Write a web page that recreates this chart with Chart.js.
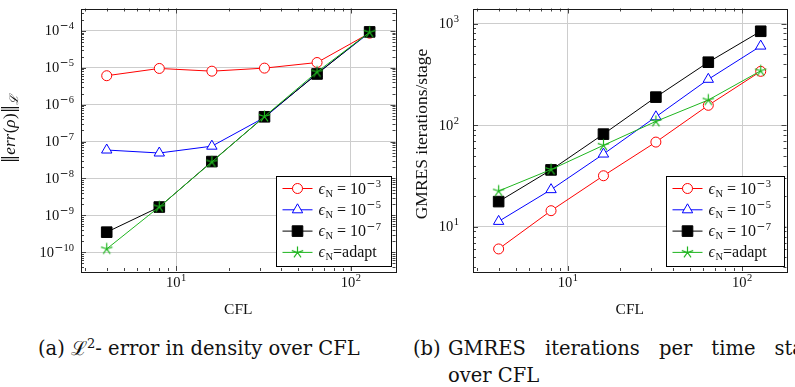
<!DOCTYPE html>
<html lang="en">
<head>
<meta charset="UTF-8" />
<title>Density error and GMRES iterations over CFL</title>
<script src="https://cdn.jsdelivr.net/npm/chart.js"></script>
<style>
  body {
    margin: 0;
    width: 795px;
    height: 387px;
    overflow: hidden;
    position: relative;
    background: #fff;
    color: #111;
  }
  canvas {
    position: absolute;
    top: 0;
  }
  #errChart { left: 0; }
  #gmresChart { left: 404px; }
  .caption {
    position: absolute;
    font-family: "DejaVu Serif", serif;
    font-size: 19.5px;
    line-height: 27px;
    white-space: nowrap;
  }
  .caption sup {
    font-size: 13px;
    line-height: 0;
  }
  #capA { left: 38px; top: 335px; }
  #capB { left: 413px; top: 335px; }
  #capB .line1 {
    position: absolute;
    left: 35px;
    top: 0;
    width: 380px;
    white-space: normal;
    text-align: justify;
    text-align-last: justify;
  }
  #capB .line2 {
    position: absolute;
    left: 35px;
    top: 27px;
  }
</style>
</head>
<body>
  <canvas id="errChart" width="404" height="320"></canvas>
  <canvas id="gmresChart" width="391" height="320"></canvas>

  <div class="caption" id="capA">(a) ℒ<sup>2</sup>- error in density over CFL</div>
  <div class="caption" id="capB">(b)<div class="line1">GMRES iterations per time stage</div><div class="line2">over CFL</div></div>

  <script>
    // CFL numbers used in every run
    const cfl = [4, 8, 16, 32, 64, 128];

    // L2 error of the density
    const errTol3  = [6.1e-6, 9.6e-6, 8.1e-6, 9.8e-6, 1.39e-5, 8.7e-5];
    const errTol5  = [5.9e-8, 4.9e-8, 7.5e-8, 4.5e-7, 7.0e-6, 9.0e-5];
    const errTol7  = [3.5e-10, 1.68e-9, 2.87e-8, 4.7e-7, 6.8e-6, 9.4e-5];
    const errAdapt = [1.23e-10, 1.7e-9, 2.8e-8, 4.8e-7, 7.7e-6, 9.2e-5];

    // GMRES iterations per stage
    const itTol3  = [6.05, 14.4, 31.8, 68.2, 157, 339];
    const itTol5  = [11.3, 23.2, 52, 121, 283, 601];
    const itTol7  = [17.7, 36.3, 81.7, 189, 417, 841];
    const itAdapt = [22.5, 36.6, 63.4, 109, 177, 343];

    // newton tolerance of each series (exponent, or the word for the adaptive one)
    const tolNames = ['-3', '-5', '-7', 'adapt'];

    // decade exponents that get a labelled tick
    const cflTickExp = [1, 2];
    const errTickExp = [-10, -9, -8, -7, -6, -5, -4];
    const itTickExp  = [1, 2, 3];

    const serif = '"Liberation Serif", serif';
    const minusFont = '"DejaVu Sans", sans-serif';
    const green = '#1fb51f';

    // five armed star like the pgfplots "star" mark
    function starMark(color) {
      const c = document.createElement('canvas');
      c.width = 15; c.height = 15;
      const g = c.getContext('2d');
      g.strokeStyle = color;
      g.lineWidth = 1.2;
      g.beginPath();
      for (let k = 0; k < 5; k++) {
        const a = -Math.PI / 2 + k * 2 * Math.PI / 5;
        g.moveTo(7.5, 7.5);
        g.lineTo(7.5 + 6 * Math.cos(a), 7.5 + 6 * Math.sin(a));
      }
      g.stroke();
      return c;
    }

    const styles = [
      { color: '#ff0000', pointStyle: 'circle',   radius: 5,   fill: '#ffffff', order: 4 },
      { color: '#0000ff', pointStyle: 'triangle', radius: 6,   fill: '#ffffff', order: 3 },
      { color: '#000000', pointStyle: 'rect',     radius: 7.5, fill: '#000000', order: 2 },
      { color: green,     pointStyle: starMark(green), radius: 7, fill: green, order: 1 }
    ];

    function buildDatasets(seriesList) {
      return seriesList.map((vals, i) => {
        const s = styles[i];
        return {
          label: tolNames[i],
          data: cfl.map((x, j) => ({ x: x, y: vals[j] })),
          borderColor: s.color,
          backgroundColor: s.fill,
          borderWidth: 1,
          pointStyle: s.pointStyle,
          pointRadius: s.radius,
          pointBorderWidth: 1,
          pointBackgroundColor: s.fill,
          pointBorderColor: s.color,
          tension: 0,
          order: s.order,
          clip: false
        };
      });
    }

    // exponent runs: the minus sign is taken from a font with a wide math minus
    function expRuns(exp, size, dy) {
      const s = String(exp);
      const runs = [];
      if (s[0] === '-') runs.push({ t: '−', font: size + 'px ' + minusFont, dy: dy, gap: 0.3 });
      runs.push({ t: s.replace('-', ''), font: size + 'px ' + serif, dy: dy });
      return runs;
    }

    // draws a run of text pieces, each with its own font and vertical shift
    function drawRuns(ctx, runs, x, y, align) {
      let total = 0;
      runs.forEach(r => { ctx.font = r.font; r.w = ctx.measureText(r.t).width; total += r.w + (r.gap || 0); });
      let cx = x;
      if (align === 'center') cx = x - total / 2;
      if (align === 'right') cx = x - total;
      runs.forEach(r => {
        ctx.font = r.font;
        ctx.fillText(r.t, cx, y + (r.dy || 0));
        cx += r.w + (r.gap || 0);
      });
    }

    // 10^exp with a raised exponent
    function drawPow(ctx, exp, x, y, align) {
      ctx.textAlign = 'left';
      ctx.textBaseline = 'alphabetic';
      const runs = [{ t: '10', font: '14.5px ' + serif, gap: 0.5 }].concat(expRuns(exp, 10.5, -6));
      drawRuns(ctx, runs, x, y, align);
    }

    const pgfAxes = {
      id: 'pgfAxes',
      afterDatasetsDraw(chart, args, opts) {
        const ctx = chart.ctx;
        const a = chart.chartArea;
        const xs = chart.scales.x, ys = chart.scales.y;
        ctx.save();
        ctx.lineWidth = 1;
        ctx.strokeStyle = '#444';
        ctx.beginPath();
        // inner ticks on all four sides, longer on decades
        for (let k = 0; k <= 2; k++) {
          for (let m = 1; m <= 9; m++) {
            const v = m * Math.pow(10, k);
            if (v < xs.min || v > xs.max) continue;
            const px = Math.round(xs.getPixelForValue(v)) + 0.5;
            const len = m === 1 ? 5 : 3;
            ctx.moveTo(px, a.bottom); ctx.lineTo(px, a.bottom - len);
            ctx.moveTo(px, a.top); ctx.lineTo(px, a.top + len);
          }
        }
        for (let k = Math.floor(Math.log10(ys.min)); k <= Math.ceil(Math.log10(ys.max)); k++) {
          for (let m = 1; m <= 9; m++) {
            const v = m * Math.pow(10, k);
            if (v < ys.min || v > ys.max) continue;
            const py = Math.round(ys.getPixelForValue(v)) + 0.5;
            const len = m === 1 ? 5 : 3;
            ctx.moveTo(a.left, py); ctx.lineTo(a.left + len, py);
            ctx.moveTo(a.right, py); ctx.lineTo(a.right - len, py);
          }
        }
        ctx.stroke();
        // axis frame
        ctx.strokeStyle = '#1a1a1a';
        ctx.strokeRect(Math.round(a.left) + 0.5, Math.round(a.top) + 0.5,
                       Math.round(a.right - a.left), Math.round(a.bottom - a.top));
        ctx.restore();
      },
      afterDraw(chart, args, opts) {
        const ctx = chart.ctx;
        const a = chart.chartArea;
        const xs = chart.scales.x, ys = chart.scales.y;
        ctx.save();
        ctx.fillStyle = '#111';

        // tick labels
        cflTickExp.forEach(e => drawPow(ctx, e, xs.getPixelForValue(Math.pow(10, e)), 287, 'center'));
        opts.yTicks.forEach(e => drawPow(ctx, e, a.left - opts.labelGap, ys.getPixelForValue(Math.pow(10, e)) + 4.5, 'right'));

        // axis titles
        ctx.textBaseline = 'alphabetic';
        ctx.textAlign = 'center';
        ctx.font = '15.5px ' + serif;
        ctx.fillText('CFL', (a.left + a.right) / 2, 314);

        ctx.save();
        ctx.translate(opts.titleX, opts.titleY);
        ctx.rotate(-Math.PI / 2);
        ctx.textAlign = 'left';
        ctx.textBaseline = 'middle';
        drawRuns(ctx, opts.yTitle, 0, 0, 'center');
        ctx.restore();

        // legend box in the lower right corner
        const lw = opts.legendWidth, lh = 90;
        const lx = Math.round(a.right - opts.legendRight - lw) + 0.5;
        const ly = Math.round(a.bottom - 5 - lh) + 0.5;
        ctx.fillStyle = '#fff';
        ctx.fillRect(lx, ly, lw, lh);
        ctx.strokeStyle = '#000';
        ctx.lineWidth = 1;
        ctx.strokeRect(lx, ly, lw, lh);

        chart.data.datasets.forEach((ds, i) => {
          const ry = ly + 12 + i * 21.3;
          ctx.strokeStyle = ds.borderColor;
          ctx.lineWidth = 1;
          ctx.beginPath();
          ctx.moveTo(lx + 6, ry);
          ctx.lineTo(lx + 36, ry);
          ctx.stroke();
          ctx.fillStyle = ds.pointBackgroundColor;
          ctx.strokeStyle = ds.pointBorderColor;
          Chart.helpers.drawPoint(ctx, {
            pointStyle: ds.pointStyle, radius: ds.pointRadius, borderWidth: 1, rotation: 0
          }, lx + 21, ry);

          ctx.fillStyle = '#111';
          ctx.textAlign = 'left';
          ctx.textBaseline = 'alphabetic';
          const base = ry + 5;
          let runs = [
            { t: 'ϵ', font: 'italic 16px ' + serif, gap: 0.5 },
            { t: 'N', font: '10.5px ' + serif, dy: 3 }
          ];
          if (ds.label === 'adapt') {
            runs.push({ t: '=adapt', font: '16px ' + serif });
          } else {
            runs.push({ t: ' = 10', font: '16px ' + serif, gap: 0.5 });
            runs = runs.concat(expRuns(ds.label, 10.5, -6.5));
          }
          drawRuns(ctx, runs, lx + 42, base, 'left');
        });
        ctx.restore();
      }
    };

    function makeChart(id, seriesList, yMin, yMax, axisOpts) {
      return new Chart(document.getElementById(id), {
        type: 'line',
        data: { datasets: buildDatasets(seriesList) },
        options: {
          responsive: false,
          animation: false,
          events: [],
          layout: { padding: { top: 5, right: axisOpts.padRight, left: 0, bottom: 0 } },
          plugins: {
            legend: { display: false },
            tooltip: { enabled: false },
            pgfAxes: axisOpts
          },
          scales: {
            x: {
              type: 'logarithmic',
              min: 2.85,
              max: 180,
              afterBuildTicks: s => { s.ticks = cflTickExp.map(e => ({ value: Math.pow(10, e) })); },
              afterFit: s => { s.height = 49; },
              grid: { color: '#cdcdcd', lineWidth: 1, drawTicks: false },
              border: { display: false },
              ticks: { display: false }
            },
            y: {
              type: 'logarithmic',
              min: yMin,
              max: yMax,
              afterBuildTicks: s => { s.ticks = axisOpts.yTicks.map(e => ({ value: Math.pow(10, e) })); },
              afterFit: s => { s.width = axisOpts.axisWidth; },
              grid: { color: '#cdcdcd', lineWidth: 1, drawTicks: false },
              border: { display: false },
              ticks: { display: false }
            }
          }
        },
        plugins: [pgfAxes]
      });
    }

    makeChart('errChart', [errTol3, errTol5, errTol7, errAdapt], 3.1e-11, 4.05e-4, {
      yTicks: errTickExp,
      axisWidth: 81,
      padRight: 3,
      labelGap: 7,
      legendWidth: 115,
      legendRight: 5,
      titleX: 11,
      titleY: 129,
      yTitle: [
        { t: '‖', font: '17px ' + minusFont },
        { t: 'err', font: 'italic 17px ' + serif, gap: 0.5 },
        { t: '(', font: '17px ' + serif },
        { t: 'ρ', font: 'italic 17px ' + serif, gap: 0.5 },
        { t: ')', font: '17px ' + serif },
        { t: '‖', font: '17px ' + minusFont },
        { t: 'ℒ', font: 'italic 12px ' + serif, dy: 4 }
      ]
    });

    makeChart('gmresChart', [itTol3, itTol5, itTol7, itAdapt], 3.67, 1409, {
      yTicks: itTickExp,
      axisWidth: 69,
      padRight: 1,
      labelGap: 14,
      legendWidth: 118,
      legendRight: 3,
      titleX: 18,
      titleY: 134,
      yTitle: [
        { t: 'GMRES iterations/stage', font: '17.5px ' + serif }
      ]
    });
  </script>
</body>
</html>
